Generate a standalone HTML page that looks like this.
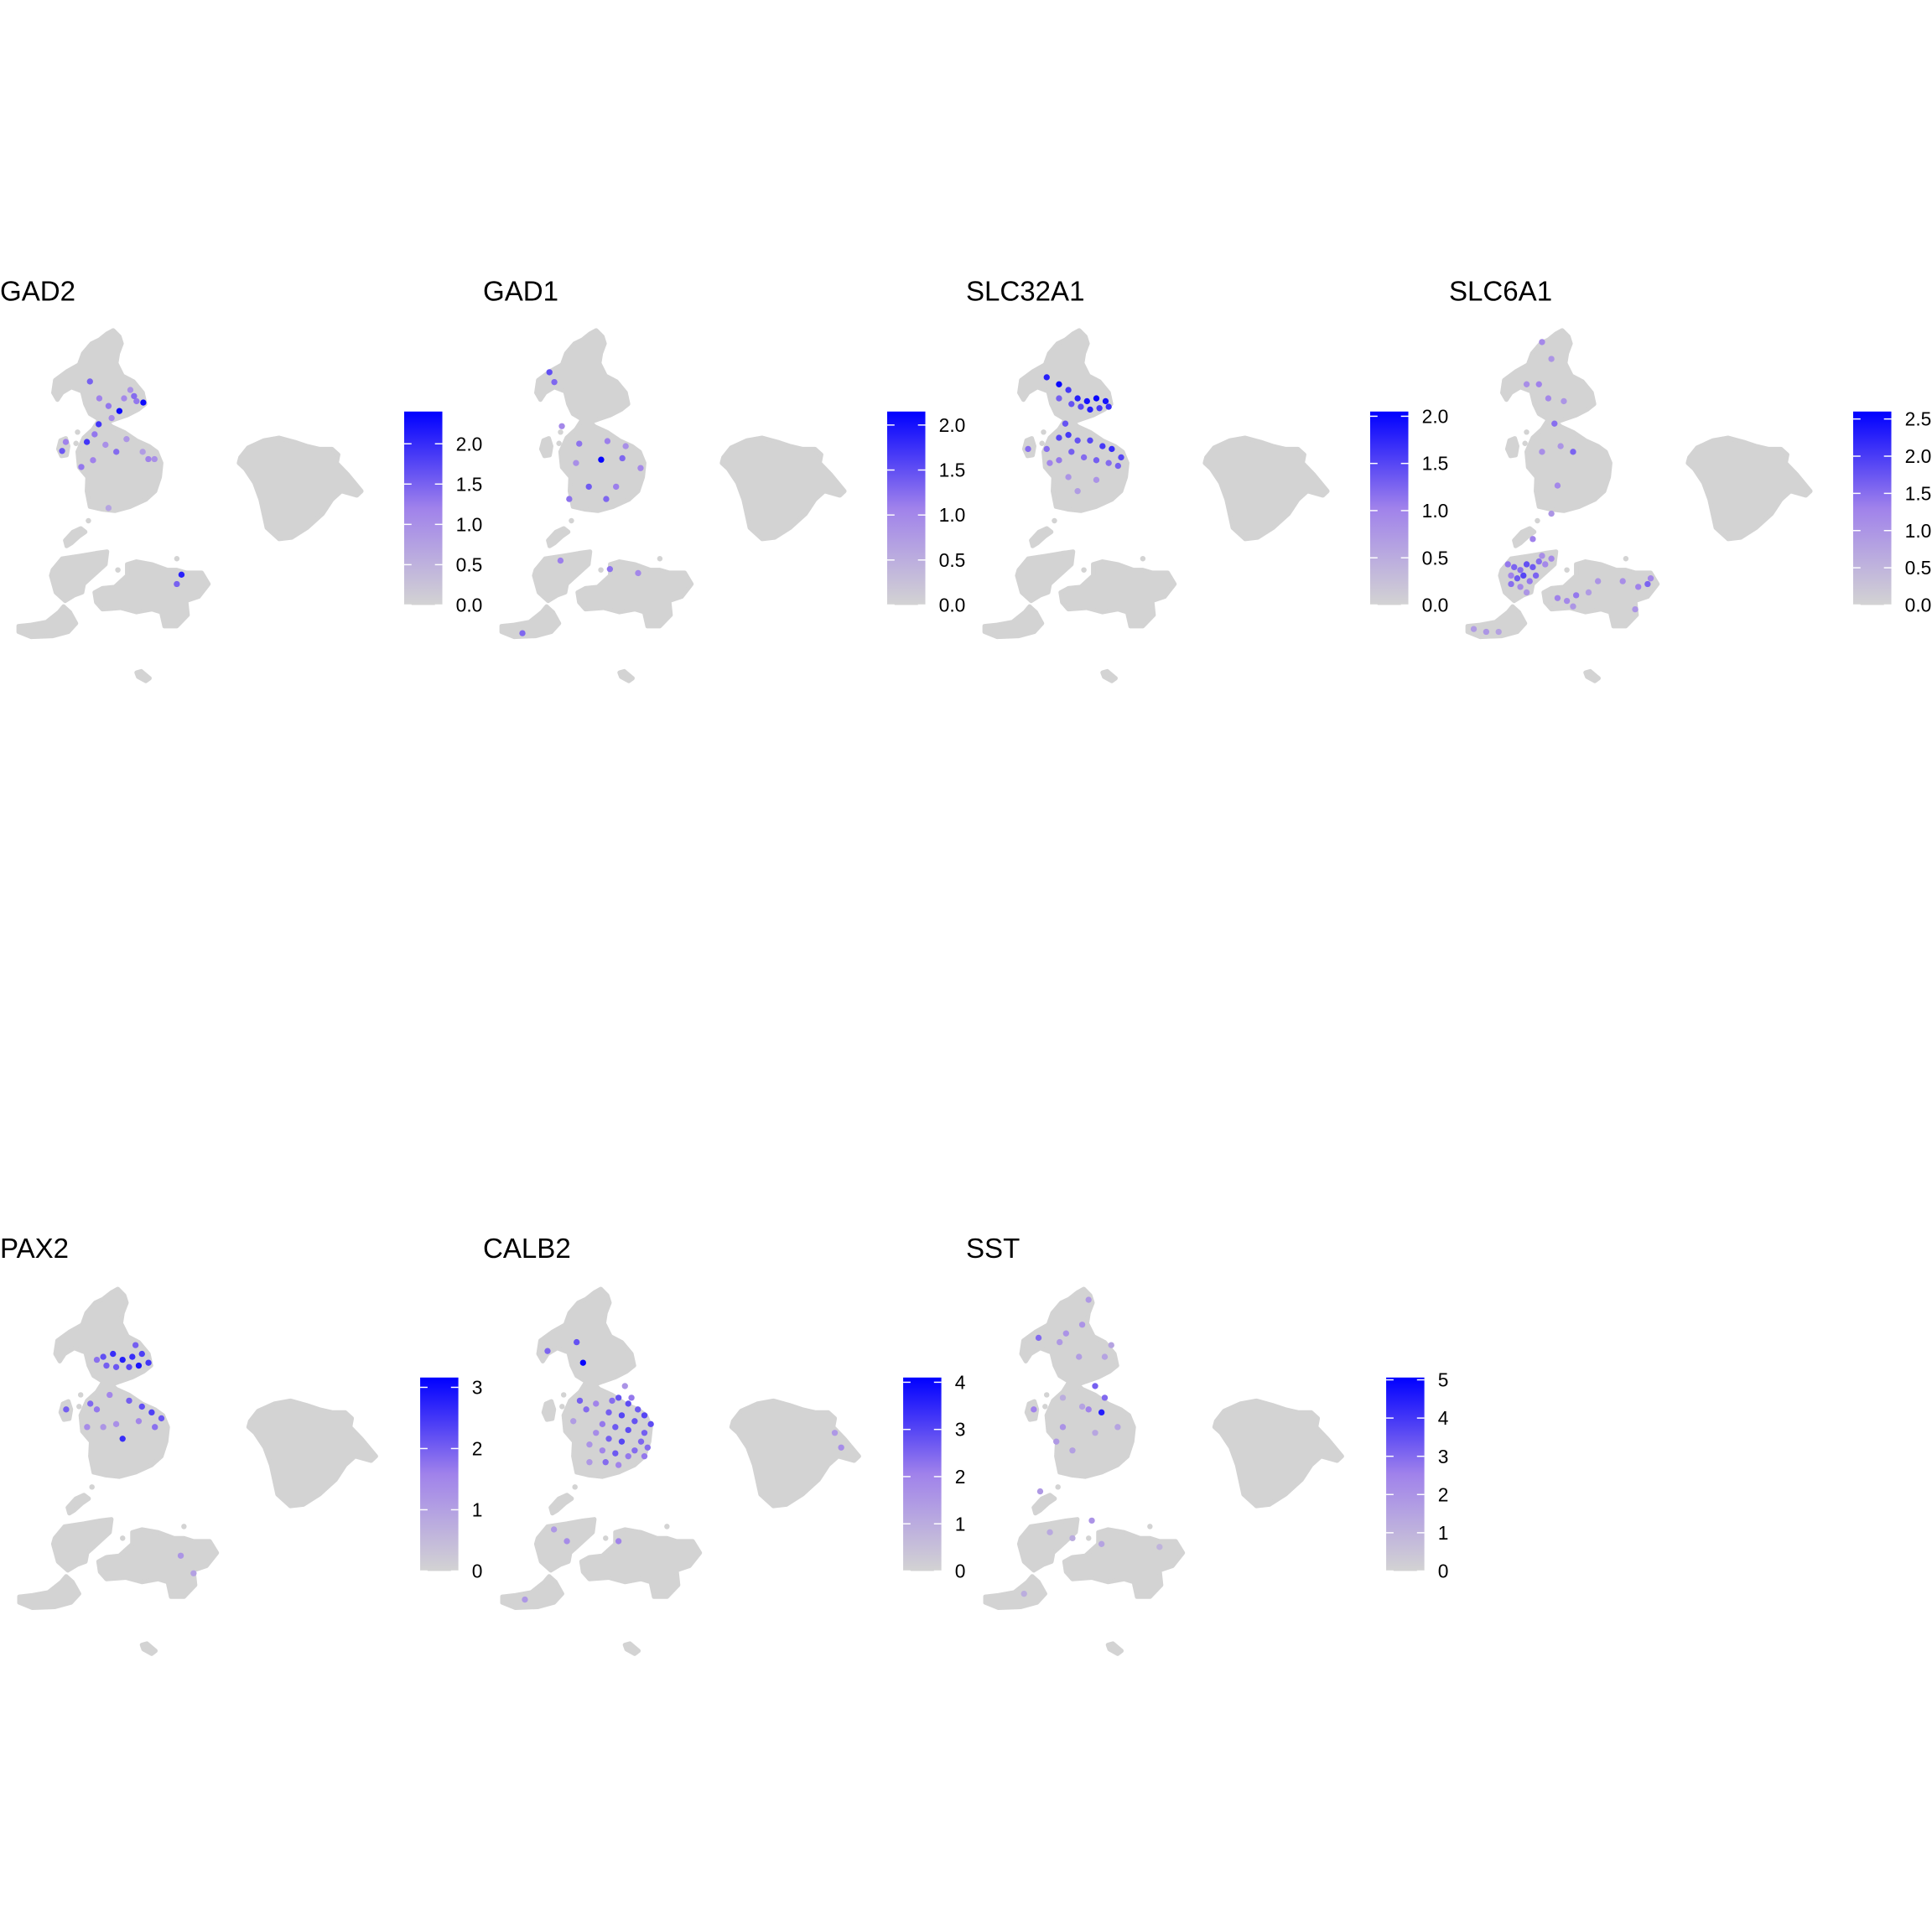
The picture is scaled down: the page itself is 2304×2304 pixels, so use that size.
<!DOCTYPE html>
<html><head><meta charset="utf-8">
<style>html,body{margin:0;padding:0;background:#fff}svg{display:block}</style>
</head><body>
<svg id="chart" width="2304" height="2304" viewBox="0 0 1568 1568" xmlns="http://www.w3.org/2000/svg" font-family="Liberation Sans, Arial, sans-serif"></svg>
<script>
// ---- data ----
const genes = ["GAD2","GAD1","SLC32A1","SLC6A1","PAX2","CALB2","SST"];
const scaleMax = [2.4,2.15,2.05,2.6,3.16,4.1,5.06];
const tickLabels = [["0.0","0.5","1.0","1.5","2.0"],["0.0","0.5","1.0","1.5","2.0"],["0.0","0.5","1.0","1.5","2.0"],["0.0","0.5","1.0","1.5","2.0","2.5"],["0","1","2","3"],["0","1","2","3","4"],["0","1","2","3","4","5"]];
const tickValues = [[0,0.5,1,1.5,2],[0,0.5,1,1.5,2],[0,0.5,1,1.5,2],[0,0.5,1,1.5,2,2.5],[0,1,2,3],[0,1,2,3,4],[0,1,2,3,4,5]];
// cluster outlines in UMAP units
const clusterUpper = [[365,228],[385,250],[392,275],[380,310],[375,345],[395,390],[430,410],[460,450],[468,490],[445,510],[410,530],[370,545],[345,555],[360,570],[400,590],[440,620],[480,640],[505,660],[520,700],[515,750],[500,800],[470,830],[420,855],[370,870],[330,865],[290,855],[280,800],[282,750],[255,715],[250,660],[270,610],[300,580],[320,545],[290,525],[275,490],[265,445],[230,430],[200,450],[185,475],[172,450],[178,405],[215,375],[255,350],[268,310],[295,275],[320,262],[345,240]];
const clusterSmallLeft = [[195,620],[212,612],[220,640],[215,672],[198,675],[188,650]];
const clusterChain = [[215,995],[210,975],[235,945],[260,932],[275,945],[255,960],[230,985]];
const clusterLowerLeft = [[170,1080],[200,1040],[260,1030],[310,1020],[345,1015],[340,1060],[310,1090],[290,1110],[270,1130],[265,1160],[240,1170],[210,1190],[180,1160],[165,1100]];
const clusterTail = [[60,1280],[100,1275],[150,1265],[190,1230],[205,1210],[225,1230],[245,1270],[220,1300],[170,1315],[100,1318],[60,1300]];
const clusterLowerMid = [[305,1160],[330,1145],[370,1140],[410,1100],[410,1060],[440,1050],[490,1060],[540,1080],[570,1080],[600,1090],[650,1090],[672,1130],[640,1175],[600,1190],[605,1240],[570,1280],[530,1280],[520,1230],[490,1220],[440,1230],[390,1215],[330,1220],[310,1195]];
const clusterTiny = [[440,1445],[455,1440],[482,1465],[470,1475],[445,1460]];
const clusterRight = [[775,680],[800,645],[850,620],[900,610],[950,625],[990,640],[1030,650],[1070,650],[1090,670],[1085,700],[1120,740],[1165,800],[1150,815],[1100,800],[1070,830],[1040,880],[990,930],[940,965],[900,970],[860,930],[850,880],[840,830],[820,770],[790,720],[770,700]];
const strayCells = [[250,590],[245,630],[285,905],[570,1040],[380,1080]];
// expressing cells per gene: [umapX, umapY, value]
const exprGAD2 = [[385,515,2.3],[462,485,2.3],[318,562,1.9],[280,625,1.9],[200,657,1.6],[585,1097,2.1],[290,410,1.5],[432,462,1.4],[350,497,1.3],[305,598,1.3],[375,660,1.4],[478,686,1.2],[262,714,1.3],[498,686,1.0],[408,615,0.9],[340,635,1.0],[320,470,1.2],[400,470,1.1],[440,480,1.3],[570,1130,1.5],[300,690,1.2],[350,860,0.7],[460,660,0.8],[212,625,1.2],[360,540,1.1],[420,440,1.0]];
const exprGAD1 = [[230,412,1.3],[214,377,1.5],[401,622,1.1],[310,631,1.2],[381,688,2.1],[449,683,1.3],[341,784,1.4],[278,828,1.2],[508,718,1.0],[397,828,1.3],[250,1047,1.1],[409,1077,1.2],[500,1091,1.0],[127,1305,1.3],[254,569,1.0],[429,784,1.1],[300,700,0.9],[460,640,0.9]];
const exprSLC32A1 = [[300,420,2.0],[330,440,1.6],[360,470,1.8],[390,480,1.9],[420,470,2.0],[450,480,1.9],[460,500,1.7],[430,505,1.6],[400,510,1.8],[370,500,1.5],[340,490,1.4],[300,470,1.3],[260,395,1.8],[320,560,1.4],[300,610,1.5],[330,600,1.6],[360,620,1.4],[400,620,1.5],[440,640,1.6],[470,650,1.7],[500,680,1.5],[490,710,1.3],[460,700,1.2],[420,690,1.3],[380,680,1.2],[340,660,1.3],[300,690,1.1],[270,700,1.0],[260,650,1.2],[200,650,1.2],[330,750,0.8],[420,760,0.8],[360,800,0.7]];
const exprSLC6A1 = [[300,270,1.2],[330,330,1.0],[250,420,1.1],[290,420,1.3],[320,470,1.2],[370,480,1.0],[340,560,1.5],[360,640,1.0],[300,660,1.1],[400,660,1.6],[350,780,1.2],[270,970,1.3],[330,880,1.0],[190,1060,1.4],[210,1070,1.6],[230,1080,1.5],[250,1060,1.8],[270,1070,1.7],[290,1050,1.5],[310,1060,1.2],[200,1100,1.3],[220,1110,1.7],[240,1100,1.9],[260,1120,1.4],[280,1100,1.6],[200,1130,1.5],[230,1140,1.2],[250,1160,1.0],[300,1030,1.1],[330,1040,1.2],[350,1180,1.3],[380,1190,1.2],[410,1170,1.4],[400,1210,1.0],[450,1160,0.9],[480,1120,1.0],[560,1120,1.1],[610,1140,1.3],[640,1130,1.6],[650,1110,1.2],[600,1220,1.0],[80,1290,0.9],[120,1300,1.0],[160,1300,0.8]];
const exprPAX2 = [[320,460,2.2],[350,450,2.6],[380,470,2.8],[410,460,2.6],[440,450,2.4],[460,480,2.5],[430,490,2.9],[400,495,2.3],[360,495,2.1],[330,490,2.0],[300,470,1.8],[420,420,2.0],[280,620,1.9],[300,640,1.7],[205,640,2.0],[400,610,2.0],[440,630,2.2],[470,650,2.4],[500,670,2.1],[480,700,1.8],[430,680,1.5],[360,690,1.3],[320,700,1.2],[380,740,2.6],[340,590,1.5],[270,700,1.4],[560,1140,1.2],[600,1200,1.0]];
const exprCALB2 = [[200,440,2.5],[290,410,2.8],[310,480,4.0],[300,610,2.6],[320,640,2.4],[350,620,2.0],[400,610,2.4],[420,600,2.8],[450,620,2.9],[480,640,2.7],[500,660,3.0],[520,690,2.9],[390,650,2.6],[430,660,3.0],[470,680,2.8],[500,720,2.6],[370,690,2.2],[410,700,2.7],[450,710,2.9],[490,750,2.5],[510,770,2.4],[350,720,1.8],[390,740,2.6],[430,750,3.0],[470,780,2.4],[500,800,2.2],[330,760,1.6],[370,780,2.0],[410,790,2.7],[450,800,2.2],[380,820,2.4],[420,830,2.0],[330,820,1.5],[460,600,2.2],[440,560,1.6],[280,680,1.4],[220,1050,1.5],[260,1090,1.8],[420,1090,2.0],[130,1290,1.5],[1090,720,1.5],[1110,770,1.8]];
const exprSST = [[225,395,3.0],[290,410,1.8],[360,350,2.0],[430,460,1.5],[400,560,3.2],[380,640,2.5],[300,700,2.0],[420,650,4.5],[280,750,1.8],[330,780,1.6],[470,700,1.5],[230,920,1.8],[310,380,2.0],[350,460,1.7],[450,420,1.5],[380,265,1.8],[210,640,2.5],[430,600,3.0],[300,600,1.2],[360,630,1.5],[400,720,1.4],[260,1060,1.3],[330,1080,1.2],[390,1020,2.0],[420,1100,1.5],[600,1110,1.0],[180,1270,1.2]];
const exprAll = [exprGAD2,exprGAD1,exprSLC32A1,exprSLC6A1,exprPAX2,exprCALB2,exprSST];

// ---- layout ----
const NS = "http://www.w3.org/2000/svg";
const svg = document.getElementById("chart");
const clusters = [clusterUpper,clusterSmallLeft,clusterChain,clusterLowerLeft,clusterTail,clusterLowerMid,clusterTiny,clusterRight];
function mk(tag, attrs, parent){ const e=document.createElementNS(NS,tag); for(const k in attrs) e.setAttribute(k,attrs[k]); (parent||svg).appendChild(e); return e; }
function colorFor(v,max){
  let t=Math.max(0,Math.min(1,v/max));
  const c0=[211,211,211], c1=[160,130,235], c2=[0,0,255];
  let a,b,u; if(t<0.5){a=c0;b=c1;u=t/0.5;}else{a=c1;b=c2;u=(t-0.5)/0.5;}
  return "rgb("+a.map((x,i)=>Math.round(x+(b[i]-x)*u)).join(",")+")";
}
const defs = mk("defs",{});
genes.forEach((g,i)=>{
  const row = i<4?0:1;
  const c = row===0? i : i-4;
  const px0 = 392*c;
  const k = row===0 ? 0.2518 : 0.2619;
  const ky = row===0 ? 0.2283 : 0.2374;
  const oy = row===0 ? 216 : 992;
  const xS = u => px0 + u*k;
  const yS = v => oy + v*ky;
  const grp = mk("g",{});
  
  
  const title = mk("text",{x:px0, y: row===0?244:1021, "font-size":22.5, fill:"#000"},grp);
  title.textContent = g;
  
  
  clusters.forEach(cl=>{
    const p = mk("polygon",{points:cl.map(q=>xS(q[0]).toFixed(1)+","+yS(q[1]).toFixed(1)).join(" "),fill:"#d3d3d3",stroke:"#d3d3d3","stroke-width":3.5,"stroke-linejoin":"round"},grp);
    
    
  });
  strayCells.forEach(q=>{
    const d = mk("circle",{cx:xS(q[0]),cy:yS(q[1]),r:2.2,fill:"#d3d3d3"},grp);
    
    
  });
  const mx = scaleMax[i];
  exprAll[i].slice().sort((a,b)=>a[2]-b[2]).forEach(q=>{
    const d = mk("circle",{cx:xS(q[0]).toFixed(1),cy:yS(q[1]).toFixed(1),r:2.5,fill:colorFor(q[2],mx)},grp);
    
    
  });
  const bx = px0 + (row===0?328:341), bTop = row===0?334:1118, bBot = row===0?491:1275, bw=31;
  const gid = "grad"+i;
  const lg = mk("linearGradient",{id:gid,x1:0,y1:1,x2:0,y2:0},defs);
  [0,0.25,0.5,0.75,1].forEach(t=>mk("stop",{offset:t,"stop-color":colorFor(t*mx,mx)},lg));
  const bar = mk("rect",{x:bx,y:bTop,width:bw,height:bBot-bTop,fill:"url(#"+gid+")"},grp);
  
  
  const yB = v => bBot - (v/mx)*(bBot-bTop);
  tickValues[i].forEach((tv,j)=>{
    const y=yB(tv);
    mk("line",{x1:bx,x2:bx+6,y1:y,y2:y,stroke:"#fff","stroke-width":1},grp);
    mk("line",{x1:bx+bw-6,x2:bx+bw,y1:y,y2:y,stroke:"#fff","stroke-width":1},grp);
    const t = mk("text",{x:bx+42,y:y+5.5,"font-size":15.5,fill:"#000"},grp);
    t.textContent = tickLabels[i][j];
    
    
  });
});
</script>
</body></html>
